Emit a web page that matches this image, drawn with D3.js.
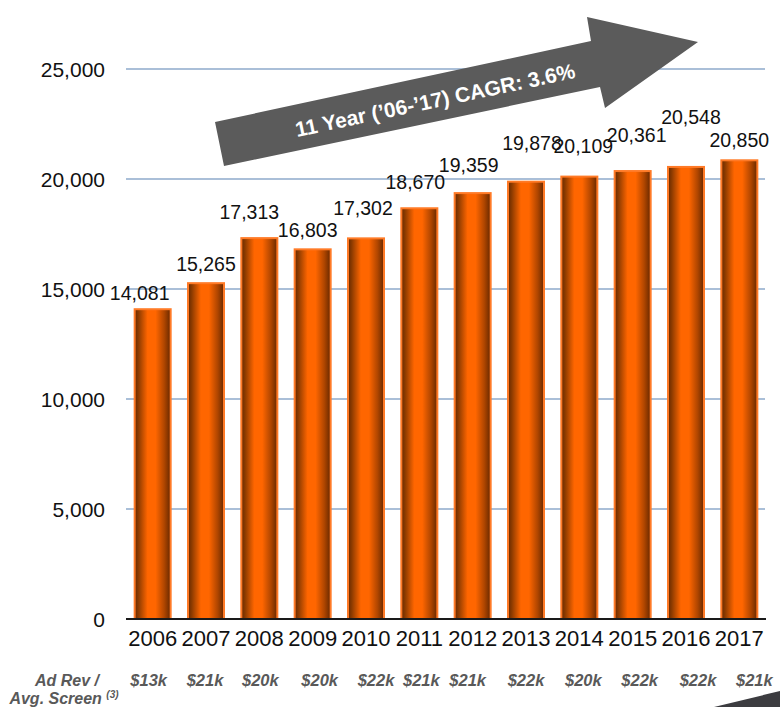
<!DOCTYPE html>
<html>
<head>
	<meta charset="utf-8">
	<title>Screens</title>
	<script src="https://d3js.org/d3.v7.min.js"></script>
	<style>
		body { margin: 0; background: #fff; }
		text { font-family: "Liberation Sans", Arial, sans-serif; }
	</style>
</head>
<body>
	<script type="text/javascript">
		var years = ['2006', '2007', '2008', '2009', '2010', '2011', '2012', '2013', '2014', '2015', '2016', '2017'];
		var screens = [14081, 15265, 17313, 16803, 17302, 18670, 19359, 19878, 20109, 20361, 20548, 20850];
		var adRev = ['$13k', '$21k', '$20k', '$20k', '$22k', '$21k', '$21k', '$22k', '$20k', '$22k', '$22k', '$21k'];
		var yTicks = [0, 5000, 10000, 15000, 20000, 25000];
		var cagrLabel = '11 Year (\u201906-\u201917) CAGR: 3.6%';

		// hand placed label nudges in the original slide, [dx, dy] from bar top centre
		var labelNudge = [[-13, -9], [0, -12], [-10, -19], [-5, -12], [-3, -23], [-4, -19],
			[-4, -21], [6, -32], [4, -24], [4, -29], [5, -43], [0, -13]];
		var adRevNudge = [-4, -1, 1, 7, 10, 2, -5, 0, 4, 7, 12, 15];

		var W = 780, H = 707;
		var svg = d3.select('body').append('svg')
			.attr('width', W)
			.attr('height', H);

		var x = d3.scaleBand()
			.domain(years)
			.range([126, 766])
			.paddingInner(0.325)
			.paddingOuter(0.1625);

		var y = d3.scaleLinear()
			.domain([0, 25000])
			.range([619, 69]);

		var grad = svg.append('defs').append('linearGradient')
			.attr('id', 'barGrad')
			.attr('x1', 0).attr('x2', 1).attr('y1', 0).attr('y2', 0);
		[[0, '#662800'], [0.1, '#8a3a00'], [0.36, '#ff6600'], [0.58, '#ff6600'],
		 [0.82, '#b04600'], [1, '#662800']].forEach(function(s) {
			grad.append('stop').attr('offset', s[0]).attr('stop-color', s[1]);
		});

		// gridlines
		svg.selectAll('.grid')
			.data(yTicks.filter(function(d) { return d > 0; }))
			.enter().append('line')
			.attr('class', 'grid')
			.attr('x1', 126).attr('x2', 765)
			.attr('y1', function(d) { return y(d); })
			.attr('y2', function(d) { return y(d); })
			.attr('stroke', '#8eaacb')
			.attr('stroke-width', 1.6);

		// y tick labels
		svg.selectAll('.ylab')
			.data(yTicks)
			.enter().append('text')
			.attr('class', 'ylab')
			.attr('x', 105)
			.attr('y', function(d) { return y(d); })
			.attr('dy', '0.36em')
			.attr('text-anchor', 'end')
			.attr('font-size', 21)
			.attr('fill', '#111')
			.text(d3.format(','));

		// bars
		svg.selectAll('.bar')
			.data(screens)
			.enter().append('rect')
			.attr('class', 'bar')
			.attr('x', function(d, i) { return x(years[i]); })
			.attr('width', x.bandwidth())
			.attr('y', function(d) { return y(d); })
			.attr('height', function(d) { return y(0) - y(d); })
			.attr('fill', 'url(#barGrad)')
			.attr('stroke', '#ff7a26')
			.attr('stroke-width', 2);

		// x axis line
		svg.append('line')
			.attr('x1', 126).attr('x2', 766)
			.attr('y1', y(0)).attr('y2', y(0))
			.attr('stroke', '#1a1a1a')
			.attr('stroke-width', 2);

		// year labels
		svg.selectAll('.xlab')
			.data(years)
			.enter().append('text')
			.attr('class', 'xlab')
			.attr('x', function(d) { return x(d) + x.bandwidth() / 2; })
			.attr('y', 646)
			.attr('text-anchor', 'middle')
			.attr('font-size', 22)
			.attr('fill', '#111')
			.text(function(d) { return d; });

		// value labels
		svg.selectAll('.val')
			.data(screens)
			.enter().append('text')
			.attr('class', 'val')
			.attr('x', function(d, i) { return x(years[i]) + x.bandwidth() / 2 + labelNudge[i][0]; })
			.attr('y', function(d, i) { return y(d) + labelNudge[i][1]; })
			.attr('text-anchor', 'middle')
			.attr('font-size', 19.5)
			.attr('fill', '#111')
			.text(d3.format(','));

		// ad revenue row
		svg.selectAll('.adrev')
			.data(adRev)
			.enter().append('text')
			.attr('class', 'adrev')
			.attr('x', function(d, i) { return x(years[i]) + x.bandwidth() / 2 + adRevNudge[i]; })
			.attr('y', 686)
			.attr('text-anchor', 'middle')
			.attr('font-size', 16.5)
			.attr('font-weight', 'bold')
			.attr('font-style', 'italic')
			.attr('fill', '#595959')
			.text(function(d) { return d; });

		var rowLab = svg.append('text')
			.attr('text-anchor', 'middle')
			.attr('font-size', 16)
			.attr('font-weight', 'bold')
			.attr('font-style', 'italic')
			.attr('fill', '#595959');
		rowLab.append('tspan').attr('x', 67).attr('y', 686).text('Ad Rev /');
		rowLab.append('tspan').attr('x', 64).attr('y', 704).text('Avg. Screen ');
		rowLab.append('tspan').attr('dy', -6).attr('font-size', 10).text('(3)');

		// CAGR arrow
		svg.append('path')
			.attr('d', 'M215,122 L591,41 L587,17 L698,42 L605,108 L600,87 L224,166 Z')
			.attr('fill', '#5b5b5b');

		svg.append('text')
			.attr('transform', 'translate(435,100) rotate(-12)')
			.attr('text-anchor', 'middle')
			.attr('dy', '0.36em')
			.attr('font-size', 21)
			.attr('font-weight', 'bold')
			.attr('fill', '#fff')
			.text(cagrLabel);

		// corner of next shape on the slide
		svg.append('path')
			.attr('d', 'M714,707 L780,691 L780,707 Z')
			.attr('fill', '#3c3c40');
	</script>
</body>
</html>
